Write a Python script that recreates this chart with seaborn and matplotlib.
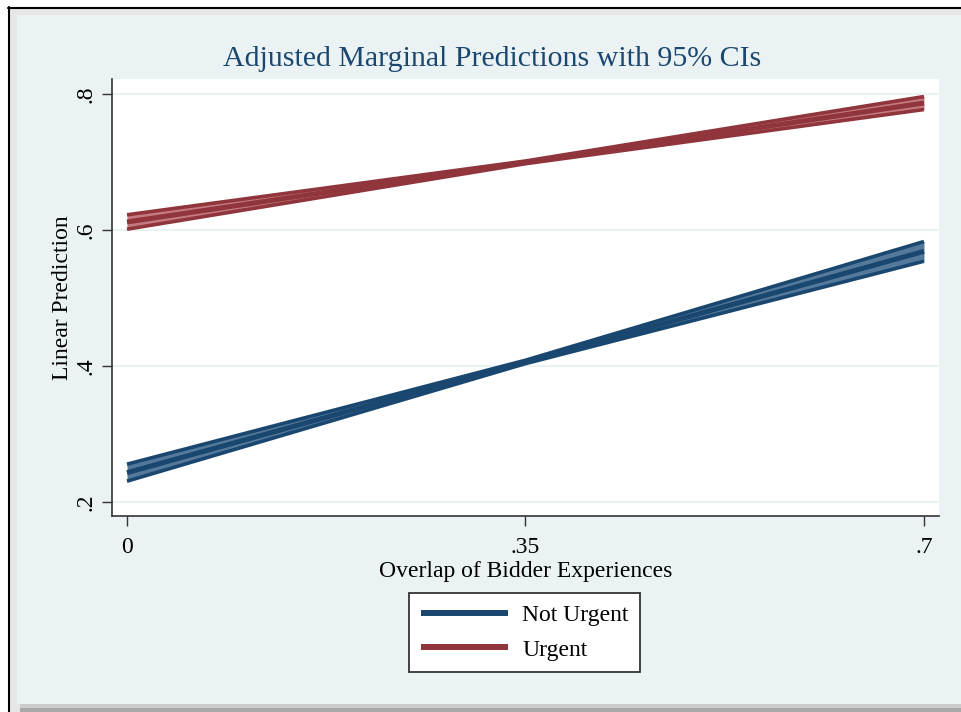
import matplotlib
matplotlib.use('Agg')
import matplotlib.pyplot as plt
from matplotlib.lines import Line2D
from matplotlib.patches import Rectangle
import numpy as np
import pandas as pd
import seaborn as sns

# ── data ──────────────────────────────────────────────────────────────────────
overlap = [0.0, 0.35, 0.7]
groups = ['Not Urgent', 'Urgent']
not_urgent_mid = [0.2431, 0.4060, 0.5686]
not_urgent_lo = [0.2306, 0.4035, 0.5541]
not_urgent_hi = [0.2556, 0.4085, 0.5831]
urgent_mid = [0.6118, 0.6995, 0.7868]
urgent_lo = [0.6012, 0.6975, 0.7772]
urgent_hi = [0.6224, 0.7015, 0.7963]
x_ticks = [0, 0.35, 0.7]
x_ticklabels = ['0', '.35', '.7']
y_ticks = [0.2, 0.4, 0.6, 0.8]
y_ticklabels = ['.2', '.4', '.6', '.8']

df = pd.DataFrame({
    'overlap': overlap * 2,
    'group': [groups[0]] * 3 + [groups[1]] * 3,
    'mid': not_urgent_mid + urgent_mid,
    'lo': not_urgent_lo + urgent_lo,
    'hi': not_urgent_hi + urgent_hi,
})

NAVY, MAROON = '#1a476f', '#90353b'
FILL = {'Not Urgent': '#55799a', 'Urgent': '#c47a80'}
DARK = {'Not Urgent': NAVY, 'Urgent': MAROON}
BG = '#eaf2f3'

sns.set_theme(style='white')
plt.rcParams['font.family'] = ['Liberation Serif', 'DejaVu Serif']
plt.rcParams['text.color'] = 'black'

W, H = 961, 712
fig = plt.figure(figsize=(W / 100, H / 100), dpi=100, facecolor='white')


def fx(px):
    return px / W


def fy(py):
    return 1 - py / H


# graph region frame, background and shadow (drawn below the axes)
def _rect(x0, y0, x1, y1, color):
    fig.patches.append(Rectangle((fx(x0), fy(y1)), fx(x1 - x0), (y1 - y0) / H,
                                 transform=fig.transFigure, facecolor=color,
                                 edgecolor='none', zorder=-10))


_rect(10, 9, 961, 712, '#e6e6e6')
_rect(17, 15, 961, 704, BG)
_rect(20, 704, 961, 708, '#cccccc')
_rect(20, 708, 961, 712, '#a8a8a8')
fig.lines.append(Line2D([fx(8.5), fx(8.5)], [fy(7), fy(712)], transform=fig.transFigure,
                        color='black', lw=1.5, zorder=-5))
fig.lines.append(Line2D([fx(8), fx(961)], [fy(7.5), fy(7.5)], transform=fig.transFigure,
                        color='black', lw=1.5, zorder=-5))

ax = fig.add_axes([fx(112), fy(516), fx(939 - 112), (516 - 79) / H])
ax.set_facecolor('white')

for g in groups:
    d = df[df['group'] == g]
    ax.fill_between(d['overlap'], d['lo'], d['hi'], color=FILL[g], lw=0, zorder=2)
    ax.plot(d['overlap'], d['lo'], color=DARK[g], lw=2.6, solid_capstyle='butt', zorder=3)
    ax.plot(d['overlap'], d['hi'], color=DARK[g], lw=2.6, solid_capstyle='butt', zorder=3)

sns.lineplot(data=df, x='overlap', y='mid', hue='group', palette=DARK, lw=3.6,
             legend=False, ax=ax, zorder=4)
for ln in ax.lines:
    ln.set_solid_capstyle('butt')

ax.set_xlim(-0.01317, 0.7132)
ax.set_ylim(0.1794, 0.8221)
ax.set_xticks(x_ticks)
ax.set_xticklabels(x_ticklabels)
ax.set_yticks(y_ticks)
ax.set_yticklabels(y_ticklabels, rotation=90, va='center')
ax.tick_params(axis='both', direction='out', length=7, width=1, color='#333333',
               labelsize=17, labelcolor='black', left=True, bottom=True)
ax.tick_params(axis='x', pad=8)
ax.tick_params(axis='y', pad=4)
ax.grid(axis='y', color=BG, lw=1.5)
ax.set_axisbelow(True)
for s in ['top', 'right']:
    ax.spines[s].set_visible(False)
for s in ['left', 'bottom']:
    ax.spines[s].set_color('#333333')
    ax.spines[s].set_linewidth(1.2)

ax.set_xlabel('Overlap of Bidder Experiences', fontsize=17, color='black', labelpad=2)
ax.set_ylabel('Linear Prediction', fontsize=17, color='black', labelpad=2)

fig.text(fx(492), fy(59), 'Adjusted Marginal Predictions with 95% CIs', fontsize=21.5,
         color=NAVY, ha='center', va='center')

handles = [Line2D([], [], color=DARK[g], lw=4.3, solid_capstyle='butt') for g in groups]
leg = fig.legend(handles, groups, loc='center', bbox_to_anchor=(fx(524.5), fy(632.5)),
                 fontsize=17, frameon=True, fancybox=False, framealpha=1,
                 edgecolor='#333333', handlelength=3.7, handletextpad=0.6,
                 labelspacing=0.55, borderpad=0.5)
leg.get_frame().set_linewidth(1.3)
leg.get_frame().set_facecolor('white')
for t in leg.get_texts():
    t.set_color('black')

fig.savefig('out.png', dpi=100, facecolor=fig.get_facecolor())
